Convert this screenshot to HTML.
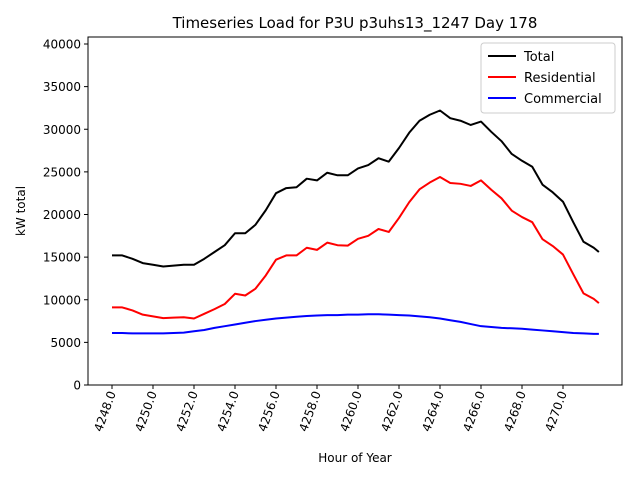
<!DOCTYPE html>
<html><head><meta charset="utf-8"><style>
html,body{margin:0;padding:0;background:#fff;}
svg{display:block;font-family:"DejaVu Sans","Liberation Sans",sans-serif;}
</style></head><body>
<svg id="chart" width="640" height="480">
<text x="355" y="28" font-size="15" text-anchor="middle">Timeseries Load for P3U p3uhs13_1247  Day 178</text>
<rect x="88" y="37" width="534" height="348" fill="none" stroke="#000" stroke-width="1"/>
<g id="yaxis"></g>
<g id="xaxis"></g>
<g id="series"></g>
<text x="25" y="211" font-size="12" text-anchor="middle" transform="rotate(-90 25 211)">kW total</text>
<text x="355" y="462" font-size="12" text-anchor="middle">Hour of Year</text>
<g>
<rect x="481" y="43" width="134" height="70" rx="3" fill="#fff" stroke="#ccc"/>
<line x1="488" y1="56" x2="516" y2="56" stroke="#000" stroke-width="2"/>
<text x="524" y="61" font-size="13">Total</text>
<line x1="488" y1="77" x2="516" y2="77" stroke="red" stroke-width="2"/>
<text x="524" y="82" font-size="13">Residential</text>
<line x1="488" y1="98" x2="516" y2="98" stroke="blue" stroke-width="2"/>
<text x="524" y="103" font-size="13">Commercial</text>
</g>
</svg>
<script>
const hours=[4248,4248.5,4249,4249.5,4250,4250.5,4251,4251.5,4252,4252.5,4253,4253.5,4254,4254.5,4255,4255.5,4256,4256.5,4257,4257.5,4258,4258.5,4259,4259.5,4260,4260.5,4261,4261.5,4262,4262.5,4263,4263.5,4264,4264.5,4265,4265.5,4266,4266.5,4267,4267.5,4268,4268.5,4269,4269.5,4270,4270.5,4271,4271.5,4271.75];
const residential=[9100,9100,8750,8250,8050,7850,7900,7950,7800,8350,8900,9500,10700,10500,11300,12850,14700,15200,15200,16100,15850,16700,16400,16350,17150,17500,18300,17950,19600,21450,22950,23750,24400,23700,23600,23350,24000,22900,21900,20450,19700,19100,17100,16300,15300,13000,10750,10100,9600];
const commercial=[6100,6100,6050,6050,6050,6050,6100,6150,6300,6450,6700,6900,7100,7300,7500,7650,7800,7900,8000,8100,8150,8200,8200,8250,8250,8300,8300,8250,8200,8150,8050,7950,7800,7600,7400,7150,6900,6800,6700,6650,6600,6500,6400,6300,6200,6100,6050,6000,6000];
const yTicks=[0,5000,10000,15000,20000,25000,30000,35000,40000];
const xTicks=[4248,4250,4252,4254,4256,4258,4260,4262,4264,4266,4268,4270];
const NS="http://www.w3.org/2000/svg";
const X=h=>112+(h-4248)*20.5;
const Y=v=>385-v*341/40000;
function mk(t,a,p){const e=document.createElementNS(NS,t);for(const k in a)e.setAttribute(k,a[k]);p.appendChild(e);return e;}
const ya=document.getElementById('yaxis'),xa=document.getElementById('xaxis'),sg=document.getElementById('series');
yTicks.forEach(v=>{
  const l=mk('line',{x1:84,x2:88,y1:Y(v),y2:Y(v),stroke:'#000'},ya);
  
  
  const t=mk('text',{x:81,y:Y(v)+4.5,'font-size':12,'text-anchor':'end'},ya);
  t.textContent=v;
  
  
});
xTicks.forEach(h=>{
  const l=mk('line',{x1:X(h),x2:X(h),y1:385,y2:389,stroke:'#000'},xa);
  
  
  const t=mk('text',{x:X(h)+4,y:393,'font-size':12,'text-anchor':'end',transform:`rotate(-70 ${X(h)+4} 393)`},xa);
  t.textContent=h.toFixed(1);
  
  
});
const total=hours.map((h,i)=>residential[i]+commercial[i]);
[[total,'#000','total-line'],[residential,'red','residential-line'],[commercial,'blue','commercial-line']].forEach(([d,c,n])=>{
  const p=mk('polyline',{points:hours.map((h,i)=>X(h)+','+Y(d[i])).join(' '),fill:'none',stroke:c,'stroke-width':2,'stroke-linejoin':'round'},sg);
  
  
});
</script>
</body></html>
